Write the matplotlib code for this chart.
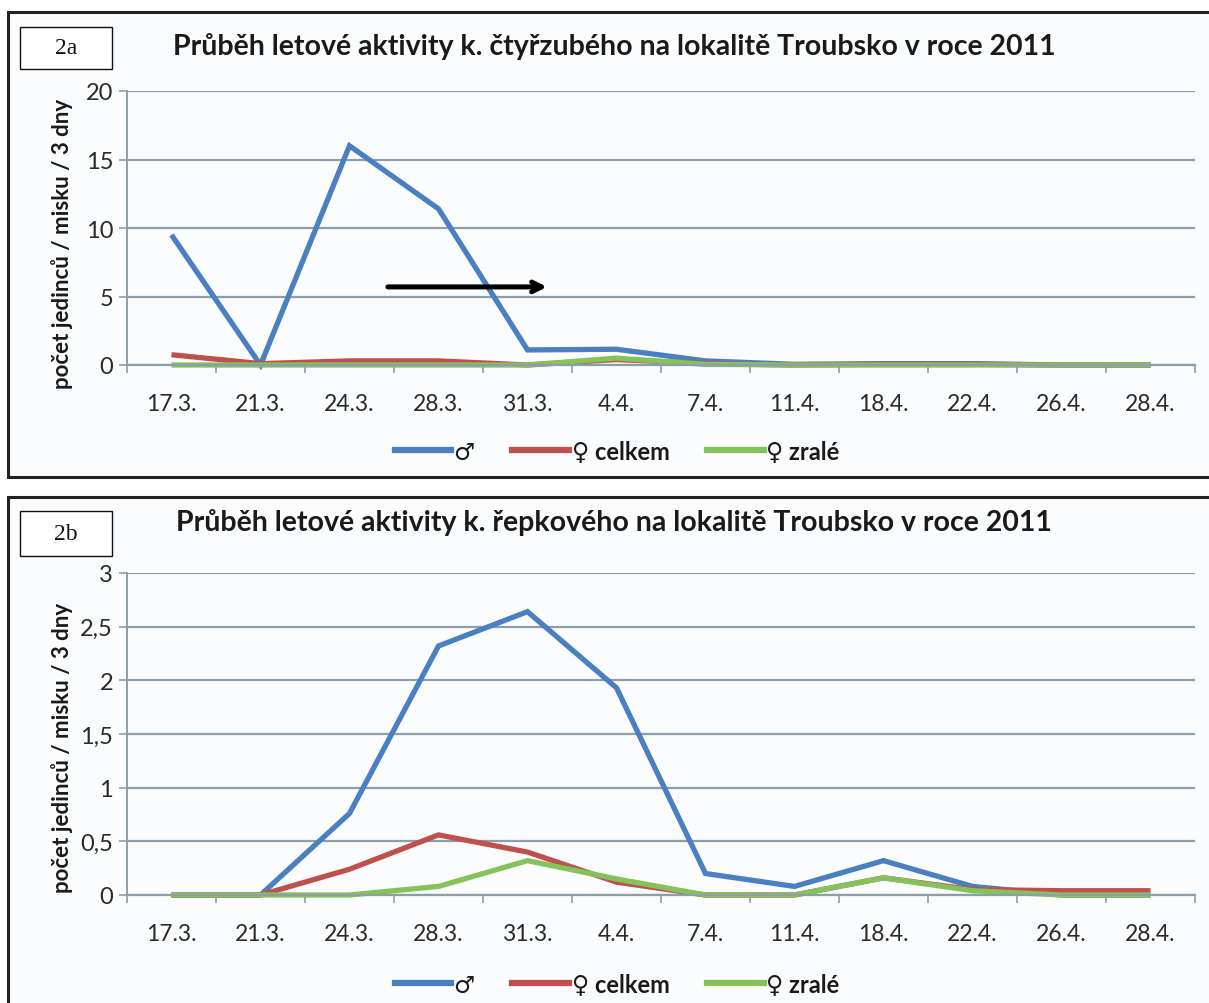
import matplotlib
matplotlib.use("Agg")
import matplotlib.pyplot as plt
from matplotlib.patches import Rectangle
from matplotlib.lines import Line2D

plt.rcParams['font.family'] = ['Lato', 'DejaVu Sans']

categories = ["17.3.", "21.3.", "24.3.", "28.3.", "31.3.", "4.4.", "7.4.", "11.4.", "18.4.", "22.4.", "26.4.", "28.4."]

# Panel 2a
a_male = [9.5, 0.0, 16.0, 11.4, 1.1, 1.15, 0.3, 0.05, 0.1, 0.1, 0.0, 0.0]
a_fem_total = [0.75, 0.1, 0.3, 0.3, 0.0, 0.4, 0.1, 0.0, 0.05, 0.05, 0.0, 0.0]
a_fem_mature = [0.0, 0.0, 0.0, 0.0, 0.0, 0.5, 0.05, 0.0, 0.0, 0.0, 0.0, 0.0]

# Panel 2b
b_male = [0.0, 0.0, 0.76, 2.32, 2.64, 1.93, 0.2, 0.08, 0.32, 0.08, 0.0, 0.0]
b_fem_total = [0.0, 0.0, 0.24, 0.56, 0.4, 0.12, 0.0, 0.0, 0.16, 0.05, 0.04, 0.04]
b_fem_mature = [0.0, 0.0, 0.0, 0.08, 0.32, 0.15, 0.0, 0.0, 0.16, 0.04, 0.0, 0.0]

series_labels = ["♂", "♀ celkem", "♀ zralé"]
colors = ["#4a7fc1", "#c0504d", "#86c25a"]

titles = ["Průběh letové aktivity k. čtyřzubého na lokalitě Troubsko v roce 2011",
          "Průběh letové aktivity k. řepkového na lokalitě Troubsko v roce 2011"]
ylabel = "počet jedinců / misku / 3 dny"

W, H = 1209, 1004
fig = plt.figure(figsize=(W / 100, H / 100), dpi=100)
fig.patch.set_facecolor("white")

def fx(px):
    return px / W

def fy(py):
    return 1 - py / H

grid_col = "#8c9ea9"
text_col = "#2a2a2a"

def panel(top_px, bottom_px, ax_top, ax_bot, box_top, box_bot, label, title, title_y,
          data, ymax, ystep, yfmt, ylab_y, leg_y, arrow=False):
    fig.patches.append(Rectangle((fx(8), fy(bottom_px)), fx(W + 20), fy(top_px) - fy(bottom_px),
                                 transform=fig.transFigure, fill=True, facecolor="#fbfcfd",
                                 edgecolor="#222222", linewidth=2.2, zorder=-10))
    fig.patches.append(Rectangle((fx(20), fy(box_bot)), fx(92), fy(box_top) - fy(box_bot),
                                 transform=fig.transFigure, fill=True, facecolor="white",
                                 edgecolor="#111111", linewidth=1.0, zorder=-9))
    fig.text(fx(66), fy((box_top + box_bot) / 2), label, family="Liberation Serif",
             fontsize=17, ha="center", va="center", color="#111111")
    fig.text(fx(614), fy(title_y), title, fontsize=20.5, fontweight="bold",
             ha="center", va="center", color="#1a1a1a")

    ax = fig.add_axes([fx(127), fy(ax_bot), fx(1068), fy(ax_top) - fy(ax_bot)])
    ax.set_facecolor("none")
    x = list(range(len(categories)))
    for vals, c, lab in zip(data, colors, series_labels):
        ax.plot(x, vals, color=c, lw=3.8, label=lab, solid_joinstyle="miter",
                solid_capstyle="butt", clip_on=False)
    ax.set_xlim(-0.5, len(categories) - 0.5)
    ax.set_ylim(0, ymax)
    yt = [i * ystep for i in range(int(round(ymax / ystep)) + 1)]
    ax.set_yticks(yt)
    ax.set_yticklabels([yfmt(v) for v in yt], fontsize=17, color=text_col)
    ax.set_xticks(x)
    ax.set_xticklabels(categories, fontsize=16.5, color=text_col)
    ax.set_xticks([i - 0.5 for i in range(len(categories) + 1)], minor=True)
    ax.tick_params(axis="x", which="major", length=0, pad=20)
    ax.tick_params(axis="x", which="minor", length=6, color=grid_col, width=1.2)
    ax.tick_params(axis="y", length=6, color=grid_col, width=1.2, pad=4)
    ax.grid(axis="y", color=grid_col, lw=1.6)
    ax.set_axisbelow(True)
    for s in ["top", "right"]:
        ax.spines[s].set_visible(False)
    ax.spines["left"].set_color(grid_col)
    ax.spines["bottom"].set_color(grid_col)
    ax.spines["left"].set_linewidth(1.4)
    ax.spines["bottom"].set_linewidth(1.6)
    fig.text(fx(62), fy(ylab_y), ylabel, rotation=90, fontsize=16, fontweight="bold",
             ha="center", va="center", color="#1a1a1a")
    if arrow:
        ax.annotate("", xy=(4.25, 5.7), xytext=(2.4, 5.7),
                    arrowprops=dict(arrowstyle="->,head_length=0.7,head_width=0.35",
                                    color="black", lw=3.6))
    handles = [Line2D([0], [0], color=c, lw=4.5) for c in colors]
    leg = fig.legend(handles, series_labels, loc="center", bbox_to_anchor=(fx(617), fy(leg_y)),
                     ncol=3, frameon=False, handlelength=2.4, handletextpad=0.1,
                     columnspacing=1.6, prop=dict(size=17, weight="bold"))
    for t in leg.get_texts():
        t.set_color("#1a1a1a")
    return ax

def fmt_int(v):
    return f"{int(round(v))}"

def fmt_cz(v):
    s = f"{v:g}"
    return s.replace(".", ",")

panel(13, 478, 92, 366, 28, 70, "2a", titles[0], 47,
      [a_male, a_fem_total, a_fem_mature], 20, 5, fmt_int, 244, 452, arrow=True)
panel(498, H + 30, 574, 896, 512, 557, "2b", titles[1], 523,
      [b_male, b_fem_total, b_fem_mature], 3, 0.5, fmt_cz, 748, 985)

fig.savefig("out.png", dpi=100)
